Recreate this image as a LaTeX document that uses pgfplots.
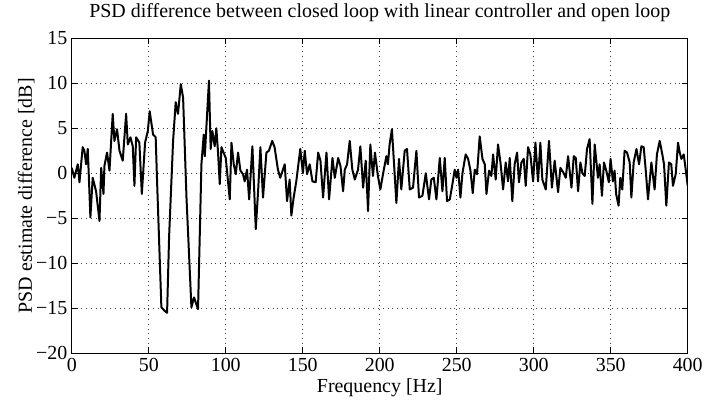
\documentclass[border=0pt]{standalone}
\usepackage{pgfplots}
\pgfplotsset{compat=1.18}
\usepackage{fontspec}
\setmainfont{Liberation Serif}
\begin{document}
\begin{tikzpicture}[font=\fontsize{20}{23}\selectfont]
\begin{axis}[
  scale only axis,
  width=618pt, height=316pt,
  xmin=0, xmax=400, ymin=-20, ymax=15,
  xtick={0,50,...,400},
  xticklabels={0,50,100,150,200,250,300,350,400},
  ytick={-20,-15,...,15},
  yticklabels={−20,−15,−10,−5,0,5,10,15},
  tick align=inside,
  major tick length=6pt,
  tick style={black, line width=0.6pt},
  axis line style={black, line width=0.8pt},
  grid=major,
  major grid style={black!75, line width=0.6pt, dash pattern=on 0.8pt off 4pt},
  tick label style={font=\fontsize{20}{23}\selectfont},
  yticklabel style={xshift=-1pt},
  xticklabel style={yshift=-1pt},
  title={PSD difference between closed loop with linear controller and open loop},
  title style={at={(axis description cs:0.5,1.0475)}, anchor=base, font=\fontsize{20}{23}\selectfont},
  xlabel={Frequency [Hz]},
  xlabel style={at={(axis description cs:0.5,-0.1234)}, anchor=base, font=\fontsize{20}{23}\selectfont},
  ylabel={PSD estimate difference [dB]},
  ylabel style={at={(axis description cs:-0.0647,0.5)}, anchor=base, rotate=0, font=\fontsize{20}{23}\selectfont},
]
\addplot[black, line width=2pt, line join=round] coordinates {
(0,0.6) (1.7,-0.5) (3.9,1) (5,-1) (7.1,2.9) (8.2,2.5) (9.3,1) (10.4,2.7)
(12.1,-4.9) (13.6,-0.5) (15.8,-2) (18,-5.3) (19.1,0.6) (20.6,-2.3) (21.2,0.8)
(22.9,2.3) (24.5,0.3) (26.6,6.6) (27.7,3.6) (29.4,4.9) (31,2.5) (33.1,1.4)
(35.3,6.6) (36.4,3.2) (38.1,4) (39.6,3) (40.7,-1.4) (41.8,4) (43.9,3.4)
(45.5,-2.3) (47.6,3.4) (49.4,4.7) (50.6,6.9) (52.8,4.3) (54.5,4) (55.4,-0.9)
(58.2,-14.9) (60.4,-15.3) (61.9,-15.5) (63.2,-7.1) (64.7,-0.9) (65.8,3.6)
(67.5,7.9) (69,6.6) (70.8,9.9) (72.3,8.4) (74.5,-2.7) (77.7,-14.9) (79.4,-13.8)
(82,-15.1) (84.2,1) (85.7,4.3) (86.4,1.9) (87.9,6.6) (89.1,10.3) (90.2,2.7)
(91.3,4.7) (92.8,3) (93.9,5) (95,2.3) (96.1,-1.2) (97.2,2.9) (100,1.7)
(102.6,-2.9) (103.7,3.4) (105.2,1.0) (106.5,-0.1) (108.0,2.3) (109.5,0.3)
(111.2,-0.1) (112.3,-0.9) (113.8,0.4) (115.2,-2.9) (117.3,3.0) (119.5,-6.2)
(121.0,-2.0) (122.5,2.9) (124.2,-2.7) (126.4,2.3) (128.0,2.5) (130.2,3.6)
(131.7,2.9) (133.9,0.4) (135.4,-0.5) (138.3,1.0) (139.8,-3.1) (141.5,-0.7)
(142.6,-4.7) (144.1,-2.7) (145.8,-0.9) (148.4,2.7) (150.1,0.0) (151.3,2.5)
(152.8,-0.1) (154.5,1.0) (156.3,-0.9) (158.4,-1.0) (160.0,2.3) (161.5,1.4)
(163.2,-2.7) (165.4,2.3) (167.1,-2.9) (169.3,1.7) (170.8,-0.5) (173.0,1.7)
(174.5,0.8) (176.2,-2.0) (177.3,0.4) (178.8,1.0) (180.5,3.6) (182.2,0.4)
(183.8,-0.7) (185.9,0.4) (187.4,3.0) (189.2,-1.6) (190.9,1.4) (192.4,-4.2)
(193.9,3.2) (195.6,-0.3) (196.9,2.3) (198.8,-0.3) (200.4,-1.8) (202.1,-0.1)
(204.3,1.9) (205.3,1.0) (206.4,3.2) (207.9,4.9) (209.3,1.0) (210.8,-3.3)
(212.5,1.6) (214.0,-1.8) (216.2,2.5) (217.7,2.7) (219.5,-1.8) (221.6,-1.6)
(223.8,2.5) (225.5,-2.7) (227.7,-2.5) (229.9,0.0) (232.0,-2.9) (233.5,-0.7)
(235.1,-0.5) (236.8,-2.9) (239.0,1.7) (240.7,-2.0) (242.2,1.7) (243.7,-3.1)
(245.5,-2.9) (247.2,-1.2) (248.7,0.4) (249.8,-0.5) (250.9,0.4) (252.4,-2.7)
(253.7,0.0) (255.8,2.1) (257.4,1.6) (258.9,0.3) (260.4,-2.2) (261.7,0.4)
(263.2,-0.1) (264.9,4.1) (266.7,1.6) (268.2,1.0) (269.3,-2.3) (271.0,0.3)
(272.5,-0.3) (273.6,2.1) (275.3,-0.7) (276.8,3.2) (278.4,1.2) (280.1,-1.8)
(281.8,1.2) (283.3,-0.9) (284.4,1.7) (286.1,-3.1) (287.6,1.0) (289.2,2.3)
(290.4,-1.0) (292.0,1.2) (293.5,1.6) (294.8,-1.4) (296.3,2.9) (297.8,2.1)
(299.6,-0.9) (301.1,3.4) (302.8,-0.9) (304.3,3.4) (305.6,-0.7) (307.8,-1.8)
(309.9,3.6) (311.8,-1.6) (313.6,1.4) (315.8,-2.1) (317.3,0.6) (319.5,0.0)
(320.8,-0.5) (322.3,1.9) (324.5,-1.6) (326.0,1.9) (327.3,1.7) (328.8,-2.0)
(330.3,1.2) (331.6,0.0) (333.1,-0.3) (334.6,2.7) (336.3,3.8) (338.1,-3.4)
(339.6,3.2) (341.7,-0.5) (342.8,1.0) (344.3,-2.5) (345.6,1.2) (347.1,0.3)
(348.8,-1.0) (349.9,1.6) (351.4,-0.9) (352.5,0.3) (353.5,-2.3) (355.1,-3.6)
(356.2,-0.5) (357.5,-1.8) (359.0,2.5) (360.6,2.3) (362.3,1.2) (363.4,-2.7)
(364.9,1.2) (366.7,2.7) (368.4,1.0) (369.9,3.0) (371.4,2.9) (372.7,0.4)
(374.2,-2.9) (376.4,1.2) (378.5,-1.8) (380.0,2.1) (381.8,3.6) (383.5,2.1)
(384.6,1.0) (386.1,-3.6) (387.8,1.2) (389.3,1.0) (390.4,-1.4) (392.2,-0.1)
(393.7,3.4) (394.8,2.3) (395.9,1.6) (397.4,2.1) (398.7,0.4) (400.0,-1.4)
};
\end{axis}
\path (-72pt,-49pt) rectangle (634pt,353pt);
\end{tikzpicture}
\end{document}
